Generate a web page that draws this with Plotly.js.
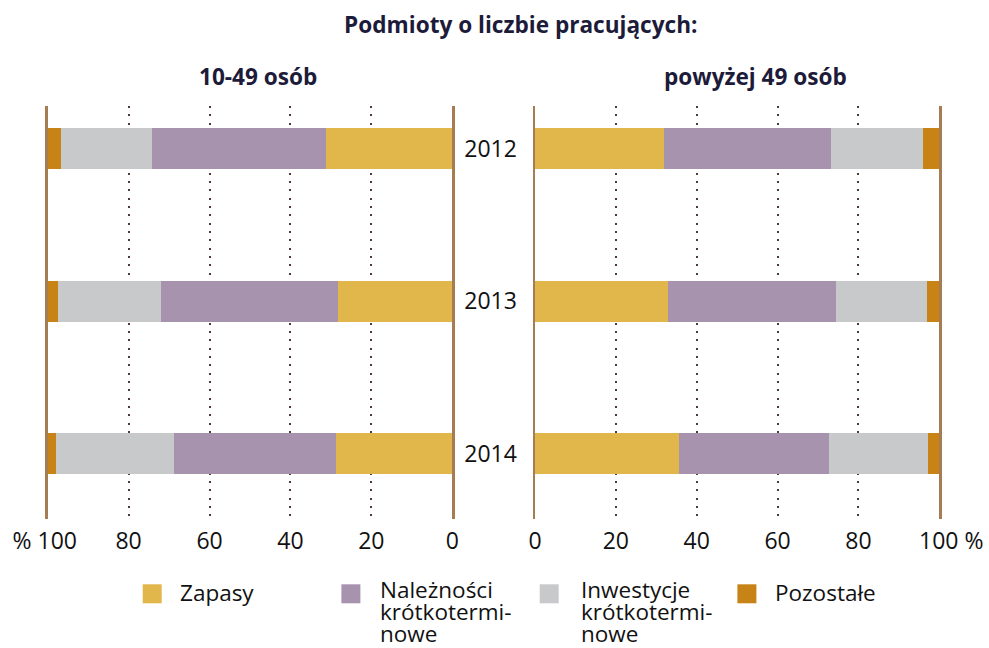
<!DOCTYPE html>
<html>
<head>
<meta charset="utf-8">
<script src="https://cdn.plot.ly/plotly-3.0.1.min.js"></script>
<style>
  html, body { margin: 0; padding: 0; background: #fff; }
  #chart { width: 989px; height: 648px; }
</style>
</head>
<body>
<div id="chart"></div>
<script>
// ---- data ----
const years = ['2012', '2013', '2014'];
const seriesNames = ['Zapasy', 'Należności krótkoterminowe', 'Inwestycje krótkoterminowe', 'Pozostałe'];
const legendLabels = ['Zapasy', 'Należności<br>krótkotermi-<br>nowe', 'Inwestycje<br>krótkotermi-<br>nowe', 'Pozostałe'];
const seriesColors = ['#e1b74b', '#a793ae', '#c8c9ca', '#c88317'];

// Podmioty 10-49 osób (%)
const small_zapasy      = [31.2, 28.3, 28.8];
const small_naleznosci  = [43.0, 43.6, 39.9];
const small_inwestycje  = [22.5, 25.6, 29.3];
const small_pozostale   = [3.3, 2.5, 2.0];

// Podmioty powyżej 49 osób (%)
const large_zapasy      = [31.9, 32.9, 35.6];
const large_naleznosci  = [41.3, 41.6, 37.1];
const large_inwestycje  = [22.8, 22.5, 24.5];
const large_pozostale   = [4.0, 3.0, 2.8];

const tickVals = [0, 20, 40, 60, 80, 100];
const tickTextLeft  = ['0', '20', '40', '60', '80', '% 100\u00A0'];
const tickTextRight = ['0', '20', '40', '60', '80', '\u00A0\u00A0\u00A0\u00A0100 %'];

const smallSeries = [small_zapasy, small_naleznosci, small_inwestycje, small_pozostale];
const largeSeries = [large_zapasy, large_naleznosci, large_inwestycje, large_pozostale];

const FONT = '"Open Sans", "Noto Sans", sans-serif';
const BAR_W = 0.27;

const traces = [];
smallSeries.forEach((vals, i) => {
  traces.push({
    type: 'bar', orientation: 'h', x: vals, y: years,
    xaxis: 'x', yaxis: 'y', width: BAR_W,
    name: seriesNames[i],
    marker: { color: seriesColors[i], line: { width: 0 } },
    showlegend: false, hoverinfo: 'skip'
  });
});
largeSeries.forEach((vals, i) => {
  traces.push({
    type: 'bar', orientation: 'h', x: vals, y: years,
    xaxis: 'x2', yaxis: 'y2', width: BAR_W,
    name: seriesNames[i],
    marker: { color: seriesColors[i], line: { width: 0 } },
    showlegend: false, hoverinfo: 'skip'
  });
});

const W = 989, H = 648;
const plotTop = 106, plotBottom = 519;
const yDom = [(H - plotBottom) / H, (H - plotTop) / H];
const lineColor = '#a67c52';
const gridColor = '#4d3b33';
const px = v => v / W;
const py = v => 1 - v / H;

const xCommon = {
  tickvals: tickVals,
  showgrid: true, gridcolor: gridColor, gridwidth: 2, griddash: '2px,6.33px',
  zeroline: false, showline: false, ticks: '',
  tickfont: { family: FONT, size: 23, color: '#111' },
  ticklabelstandoff: 6, fixedrange: true, automargin: false
};
const yCommon = {
  type: 'category', categoryorder: 'array', categoryarray: years,
  range: [2.43, -0.28], domain: yDom,
  showgrid: false, zeroline: false,
  showline: true, mirror: true, linecolor: lineColor, linewidth: 2.5,
  ticks: '', fixedrange: true, automargin: false
};

// ---- manual legend (squares + text) ----
const legSquareX = [142.7, 341.4, 539.7, 737.4];
const legTextX   = [178, 378, 579, 773];
const legSquareTop = 584.3, legSquareSize = 19;
const legLineGap = 22;                 // px between text lines
const legFontSize = 22.5;
const legBaseSize = legLineGap / 1.3;  // controls Plotly line spacing

const shapes = [];
const annotations = [
  { text: '<b>10-49 osób</b>', xref: 'paper', yref: 'paper',
    x: px(257.5), y: py(77), xanchor: 'center', yanchor: 'middle',
    showarrow: false, font: { family: FONT, size: 22.6, color: '#1d1b3a' } },
  { text: '<b>powyżej 49 osób</b>', xref: 'paper', yref: 'paper',
    x: px(755), y: py(77), xanchor: 'center', yanchor: 'middle',
    showarrow: false, font: { family: FONT, size: 22.6, color: '#1d1b3a' } }
];
seriesColors.forEach((c, i) => {
  shapes.push({
    type: 'rect', xref: 'paper', yref: 'paper',
    x0: px(legSquareX[i]), x1: px(legSquareX[i] + legSquareSize),
    y0: py(legSquareTop), y1: py(legSquareTop + legSquareSize),
    fillcolor: c, line: { width: 0 }
  });
  const multi = legendLabels[i].indexOf('<br>') >= 0;
  annotations.push({
    text: '<span style="font-size:' + legFontSize + 'px">' + legendLabels[i] + '</span>',
    xref: 'paper', yref: 'paper',
    x: px(legTextX[i]), y: py(multi ? 611 : 592), xanchor: 'left', yanchor: 'middle',
    align: 'left', showarrow: false,
    font: { family: FONT, size: legBaseSize, color: '#111' }
  });
});

const layout = {
  width: W, height: H,
  margin: { l: 0, r: 0, t: 0, b: 0 },
  paper_bgcolor: '#fff', plot_bgcolor: 'rgba(0,0,0,0)',
  barmode: 'stack',
  showlegend: false,
  font: { family: FONT, color: '#111' },
  title: {
    text: '<b>Podmioty o liczbie pracujących:</b>',
    font: { family: FONT, size: 22.6, color: '#1d1b3a' },
    x: px(520.8), xanchor: 'center', xref: 'paper',
    y: py(25), yanchor: 'middle', yref: 'paper'
  },
  xaxis: Object.assign({}, xCommon, {
    domain: [px(47.7), px(452.3)], range: [100, 0], anchor: 'y',
    ticktext: tickTextLeft
  }),
  xaxis2: Object.assign({}, xCommon, {
    domain: [px(535), px(939.3)], range: [0, 100], anchor: 'y2',
    ticktext: tickTextRight
  }),
  yaxis: Object.assign({}, yCommon, { anchor: 'x', showticklabels: false }),
  yaxis2: Object.assign({}, yCommon, {
    anchor: 'x2', side: 'left', showticklabels: true,
    tickfont: { family: FONT, size: 23, color: '#111' },
    ticklabelstandoff: 11
  }),
  shapes: shapes,
  annotations: annotations
};

Plotly.newPlot('chart', traces, layout, { displayModeBar: false, staticPlot: true });
</script>
</body>
</html>
